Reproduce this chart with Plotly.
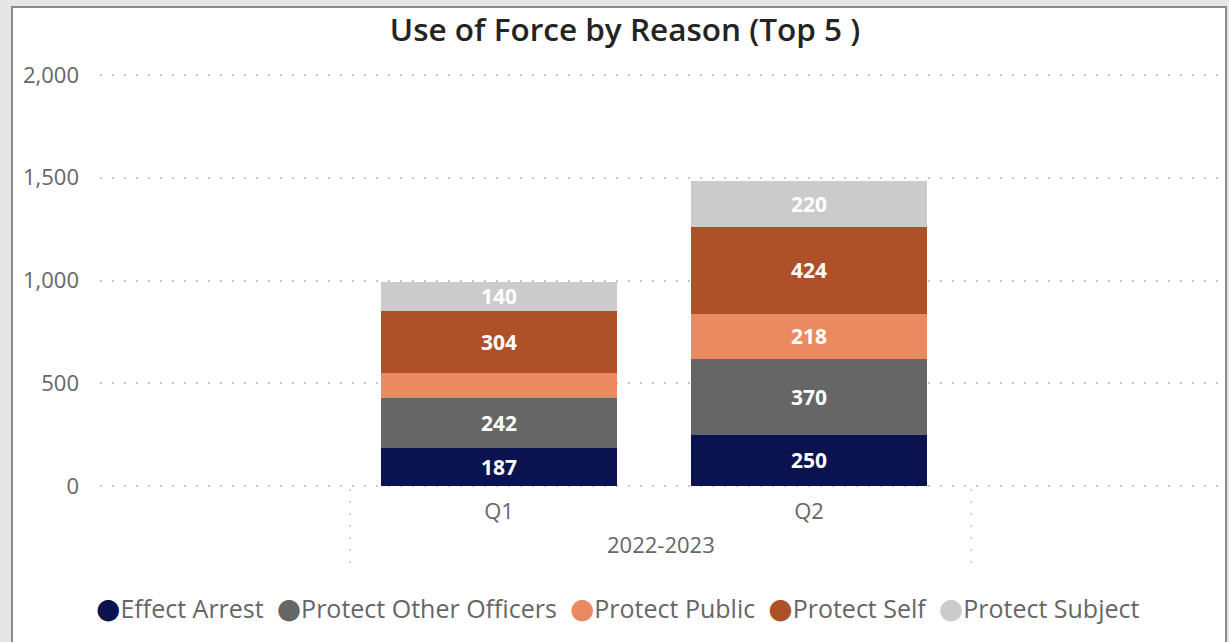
import plotly.graph_objects as go

quarters = ["Q1", "Q2"]
period = "2022-2023"
reasons = ["Effect Arrest", "Protect Other Officers", "Protect Public", "Protect Self", "Protect Subject"]
effect_arrest = [187, 250]
protect_other_officers = [242, 370]
protect_public = [121, 218]
protect_self = [304, 424]
protect_subject = [140, 220]
y_ticks = [0, 500, 1000, 1500, 2000]
y_tick_labels = ["0", "500", "1,000", "1,500", "2,000"]

series = [effect_arrest, protect_other_officers, protect_public, protect_self, protect_subject]
colors = ["#0b1250", "#666666", "#eb8a61", "#ae5129", "#cbcbcb"]

W, H = 1229, 642
# plot area in page pixels
PL, PR, PT, PB = 100, 1220, 70, 491
pw = PR - PL
ph = PB - PT
# y range so that 0 sits at px 486 and 2000 at px 75
upp = 2000 / (486 - 75)
y0 = -(PB - 486) * upp
y1 = 2000 + (75 - PT) * upp
# x range: category 0 at px 499, 310 px per category
x_c0, x_step = 499, 310
x_rng = [(PL - x_c0) / x_step, (PR - x_c0) / x_step]


def px_x(p):
    return (p - PL) / pw


def px_y(p):
    return (PB - p) / ph


def dx(p):
    return (p - x_c0) / x_step


fig = go.Figure()
for name, vals, col in zip(reasons, series, colors):
    texts = [f"{v:,}" if v >= 130 else "" for v in vals]
    fig.add_trace(go.Bar(
        x=quarters, y=vals, name=name, marker=dict(color=col, line=dict(width=0)),
        text=texts, textposition="inside", insidetextanchor="middle",
        textfont=dict(color="white", size=21, family="Open Sans", weight="bold"),
        showlegend=False, hoverinfo="y+name"))

grid = "#c8c8c8"
shapes = [
    dict(type="rect", xref="paper", yref="paper", x0=px_x(12), x1=px_x(1226), y0=px_y(680), y1=px_y(7),
         fillcolor="white", line=dict(color="#8a8a8a", width=2), layer="below"),
]
for xv in [dx(350), dx(971)]:
    shapes.append(dict(type="line", xref="x", yref="paper", x0=xv, x1=xv, y0=px_y(489), y1=px_y(564),
                       line=dict(color=grid, width=1.5, dash="2px,10px")))

legend_parts = []
for i, (name, col) in enumerate(zip(reasons, colors)):
    sep = "&nbsp;&nbsp;" if i > 0 else ""
    legend_parts.append(f"{sep}<span style='color:{col};font-size:28px;font-family:DejaVu Sans'>●</span>{name}")
legend_text = "".join(legend_parts)

fig.update_layout(
    width=W, height=H,
    margin=dict(l=PL, r=W - PR, t=PT, b=H - PB),
    paper_bgcolor="#e6e6e6", plot_bgcolor="rgba(0,0,0,0)",
    barmode="stack", bargap=0.239, showlegend=False,
    uniformtext=dict(minsize=21, mode="show"),
    title=dict(text="Use of Force by Reason (Top 5 )", x=625 / W, xanchor="center",
               y=1 - 30 / H, yanchor="middle",
               font=dict(family="Open Sans", size=31.5, color="#252423", weight=600)),
    xaxis=dict(range=x_rng, tickvals=[0, 1], ticktext=quarters, showgrid=False,
               zeroline=False, showline=False, ticks="", ticklabelstandoff=5,
               tickfont=dict(family="Open Sans", size=22, color="#666666")),
    yaxis=dict(range=[y0, y1], tickvals=y_ticks, ticktext=y_tick_labels, showgrid=True,
               gridcolor=grid, griddash="2px,10px", gridwidth=1.5, zeroline=False,
               ticks="", ticklabelstandoff=20,
               tickfont=dict(family="Open Sans", size=22, color="#666666")),
    shapes=shapes,
    annotations=[
        dict(text=period, xref="x", yref="paper", x=(dx(350) + dx(971)) / 2, y=px_y(544), showarrow=False,
             xanchor="center", yanchor="middle",
             font=dict(family="Open Sans", size=22, color="#666666")),
        dict(text=legend_text, xref="paper", yref="paper", x=px_x(617), y=px_y(608), showarrow=False,
             xanchor="center", yanchor="middle",
             font=dict(family="Open Sans", size=25, color="#666666")),
    ],
)

fig.write_html("out.html", config={"displayModeBar": False},
               post_script="document.body.style.margin='0';document.body.style.background='#e6e6e6';")
